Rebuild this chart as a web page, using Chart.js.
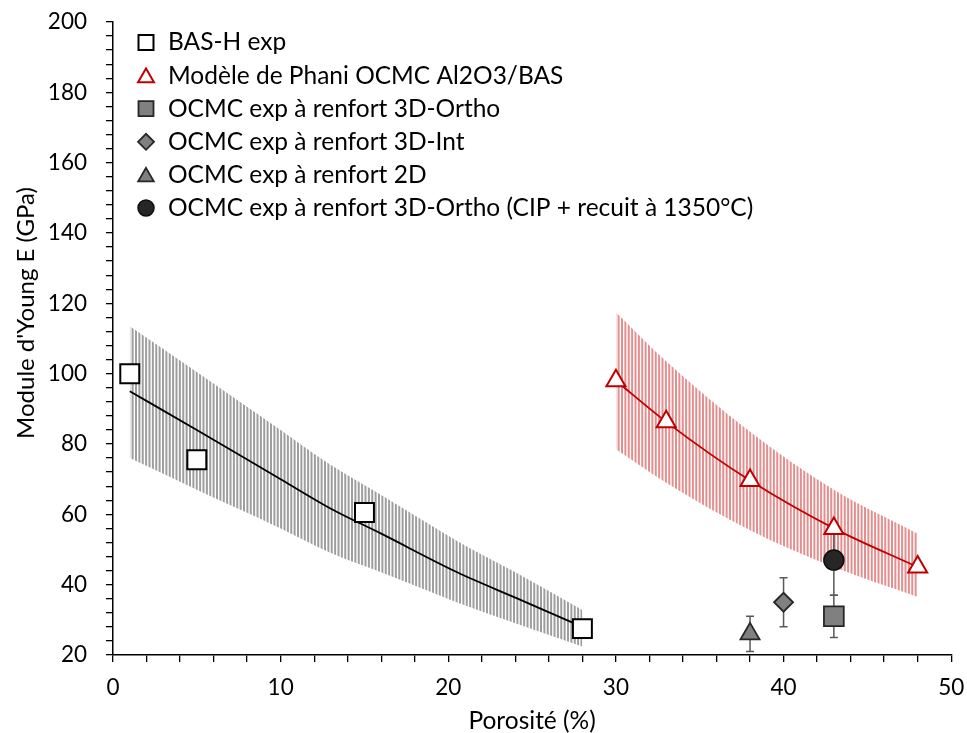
<!DOCTYPE html>
<html>
<head>
<meta charset="utf-8">
<script src="https://cdn.jsdelivr.net/npm/chart.js@4.4.0/dist/chart.umd.min.js"></script>
<style>
  html, body { margin: 0; padding: 0; background: #fff; }
  #wrap { width: 967px; height: 733px; }
</style>
</head>
<body>
<div id="wrap"><canvas id="chart" width="967" height="733"></canvas></div>
<script>
// --- data ---
const basX = [1, 5, 15, 28];
const basY = [100, 75.5, 60.5, 27.5];

// BAS-H model curve and its +/- band
const basModelX = [1, 5, 10, 13, 16, 20.5, 24, 28];
const basModelY = [95, 84, 70, 61.6, 54.5, 43.6, 36.3, 28];
const basUpper = [113.5, 100.5, 84, 74, 65.5, 52.5, 43.5, 32.8];
const basLower = [76, 67, 56, 49, 43.5, 35, 29, 22.4];

// Phani model OCMC Al2O3/BAS
const phaniX = [30, 33, 38, 43, 48];
const phaniY = [98, 86.3, 69.6, 56, 45];
const phaniUpper = [117.5, 103.5, 83.5, 67, 54.5];
const phaniLower = [78.5, 69, 55.5, 45, 36.5];

// experimental OCMC points (value, error)
const orthoX = [43], orthoY = [31], orthoErr = [6];
const intX = [40], intY = [35], intErr = [7];
const twoDX = [38], twoDY = [26], twoDErr = [5];
const cipX = [43], cipY = [47], cipErr = [10];

const xTicks = [0, 10, 20, 30, 40, 50];
const yTicks = [20, 40, 60, 80, 100, 120, 140, 160, 180, 200];
const yTitle = "Module d'Young E (GPa)";

const FONT = "Lato, 'Open Sans', sans-serif";
const pts = (xs, ys) => xs.map((x, i) => ({ x, y: ys[i] }));

function stripes(color) {
  const p = document.createElement('canvas');
  p.width = 27; p.height = 4;
  const g = p.getContext('2d');
  g.fillStyle = color;
  for (let i = 0; i < 8; i++) g.fillRect(i * 27 / 8, 0, 2, 4);
  return g.createPattern(p, 'repeat');
}

// vertical error bars, drawn just before the dataset's markers
const errorBars = {
  id: 'errorBars',
  beforeDatasetDraw(chart, args) {
    const ds = chart.data.datasets[args.index];
    if (!ds.err) return;
    const { ctx, scales: { x, y } } = chart;
    ctx.save();
    ctx.strokeStyle = '#595959';
    ctx.lineWidth = 1.5;
    ds.data.forEach((p, i) => {
      const px = x.getPixelForValue(p.x);
      const top = y.getPixelForValue(p.y + ds.err[i]);
      const bot = y.getPixelForValue(p.y - ds.err[i]);
      ctx.beginPath();
      ctx.moveTo(px, top); ctx.lineTo(px, bot);
      ctx.moveTo(px - 4, top); ctx.lineTo(px + 4, top);
      ctx.moveTo(px - 4, bot); ctx.lineTo(px + 4, bot);
      ctx.stroke();
    });
    ctx.restore();
  }
};

// legend inside the plot (top left) and the y title, placed as in the figure
const insideLegend = {
  id: 'insideLegend',
  afterDraw(chart) {
    const ctx = chart.ctx;
    const items = chart.data.datasets.filter(d => d.legendR);
    ctx.save();
    items.forEach((d, i) => {
      const cy = 42.5 + i * 33.1;
      ctx.fillStyle = d.pointBackgroundColor;
      ctx.strokeStyle = d.pointBorderColor;
      ctx.lineWidth = d.pointBorderWidth;
      Chart.helpers.drawPoint(ctx, { pointStyle: d.pointStyle, radius: d.legendR, borderWidth: d.pointBorderWidth, rotation: 0 }, 146, d.pointStyle === 'triangle' ? cy + 2 : cy);
      ctx.fillStyle = '#000';
      ctx.font = '24.5px ' + FONT;
      ctx.textBaseline = 'middle';
      ctx.fillText(d.label, 168, cy);
    });
    ctx.translate(26, 313);
    ctx.rotate(-Math.PI / 2);
    ctx.textAlign = 'center';
    ctx.font = '24px ' + FONT;
    ctx.fillText(yTitle, 0, 0);
    ctx.restore();
  }
};

const bandGray = stripes('#9e9e9e');
const bandRed = stripes('#e38f8f');

new Chart(document.getElementById('chart'), {
  type: 'scatter',
  data: {
    datasets: [
      { label: 'BAS-H exp', data: pts(basX, basY), pointStyle: 'rect', pointRadius: 13.4, legendR: 10.6,
        pointBackgroundColor: '#ffffff', pointBorderColor: '#000000', pointBorderWidth: 2, order: 0 },
      { label: 'Modèle de Phani OCMC Al2O3/BAS', data: pts(phaniX, phaniY), pointStyle: 'triangle', pointRadius: 11, legendR: 9.2,
        pointBackgroundColor: '#ffffff', pointBorderColor: '#c00000', pointBorderWidth: 2,
        showLine: true, borderColor: '#c00000', borderWidth: 1.8, cubicInterpolationMode: 'monotone', order: 0 },
      { label: 'OCMC exp à renfort 3D-Ortho', data: pts(orthoX, orthoY), err: orthoErr, pointStyle: 'rect', pointRadius: 14, legendR: 10.6,
        pointBackgroundColor: '#808080', pointBorderColor: '#262626', pointBorderWidth: 1.8, order: 0 },
      { label: 'OCMC exp à renfort 3D-Int', data: pts(intX, intY), err: intErr, pointStyle: 'rectRot', pointRadius: 9.5, legendR: 8,
        pointBackgroundColor: '#808080', pointBorderColor: '#262626', pointBorderWidth: 1.8, order: 0 },
      { label: 'OCMC exp à renfort 2D', data: pts(twoDX, twoDY), err: twoDErr, pointStyle: 'triangle', pointRadius: 11, legendR: 9,
        pointBackgroundColor: '#808080', pointBorderColor: '#262626', pointBorderWidth: 1.8, order: 0 },
      { label: 'OCMC exp à renfort 3D-Ortho (CIP + recuit à 1350°C)', data: pts(cipX, cipY), err: cipErr, pointStyle: 'circle', pointRadius: 10, legendR: 8,
        pointBackgroundColor: '#262626', pointBorderColor: '#0d0d0d', pointBorderWidth: 1.5, order: 0 },
      // model curve BAS-H
      { label: '', data: pts(basModelX, basModelY), showLine: true, pointRadius: 0, borderColor: '#000000', borderWidth: 1.8,
        cubicInterpolationMode: 'monotone', order: 1 },
      // bands
      { label: '', data: pts(basModelX, basUpper), showLine: true, pointRadius: 0, borderWidth: 0, borderColor: 'transparent',
        cubicInterpolationMode: 'monotone', fill: '+1', backgroundColor: bandGray, order: 2 },
      { label: '', data: pts(basModelX, basLower), showLine: true, pointRadius: 0, borderWidth: 0, borderColor: 'transparent',
        cubicInterpolationMode: 'monotone', order: 2 },
      { label: '', data: pts(phaniX, phaniUpper), showLine: true, pointRadius: 0, borderWidth: 0, borderColor: 'transparent',
        cubicInterpolationMode: 'monotone', fill: '+1', backgroundColor: bandRed, order: 2 },
      { label: '', data: pts(phaniX, phaniLower), showLine: true, pointRadius: 0, borderWidth: 0, borderColor: 'transparent',
        cubicInterpolationMode: 'monotone', order: 2 }
    ]
  },
  options: {
    responsive: false,
    animation: false,
    layout: { padding: { top: 22, right: 0, left: 0, bottom: 0 } },
    plugins: { legend: { display: false }, tooltip: { enabled: false } },
    scales: {
      x: {
        type: 'linear', min: 0, max: 50,
        afterFit(s) { s.height = 78; s.paddingLeft = 0; s.paddingRight = 15; },
        ticks: { stepSize: 2, autoSkip: false, maxRotation: 0, padding: 12, color: '#000',
          font: { family: FONT, size: 22.5 },
          callback: v => xTicks.includes(v) ? String(v) : '' },
        grid: { drawOnChartArea: false, drawTicks: true, tickLength: 7, color: '#000', lineWidth: 1.3 },
        border: { display: true, color: '#000', width: 1.5 },
        title: { display: true, text: 'Porosité (%)', color: '#000', font: { family: FONT, size: 24.5 }, padding: { top: 0, bottom: -3 } }
      },
      y: {
        type: 'linear', min: 20, max: 200,
        afterFit(s) { s.width = 113; s.paddingTop = 0; s.paddingBottom = 0; },
        ticks: { stepSize: 4, autoSkip: false, padding: 19, color: '#000',
          font: { family: FONT, size: 22.5 },
          callback: v => yTicks.includes(v) ? String(v) : '' },
        grid: { drawOnChartArea: false, drawTicks: true, tickLength: 7, color: '#000', lineWidth: 1.3 },
        border: { display: true, color: '#000', width: 1.5 }
      }
    }
  },
  plugins: [errorBars, insideLegend]
});
</script>
</body>
</html>
